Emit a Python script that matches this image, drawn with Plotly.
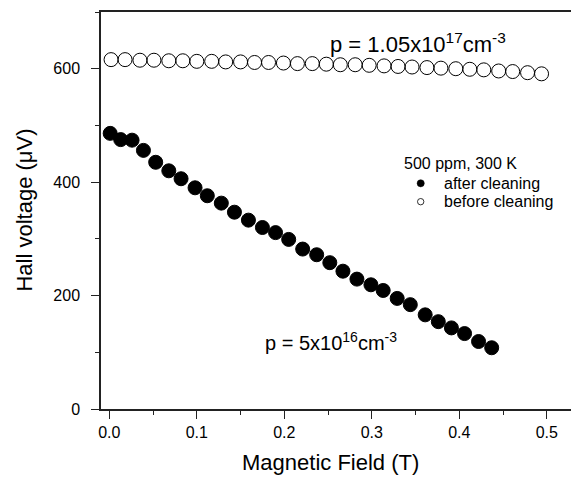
import plotly.graph_objects as go

# Data
field_after = [0.001, 0.013, 0.026, 0.039, 0.053, 0.068, 0.082, 0.098, 0.112, 0.128,
               0.143, 0.159, 0.175, 0.190, 0.205, 0.221, 0.237, 0.252, 0.267, 0.283,
               0.299, 0.313, 0.329, 0.344, 0.361, 0.376, 0.391, 0.406, 0.422, 0.437]
hall_after = [486, 475, 474, 456, 435, 420, 406, 390, 376, 363,
              347, 333, 320, 311, 299, 282, 272, 258, 243, 229,
              219, 209, 195, 184, 166, 154, 143, 133, 119, 108]

field_before = [0.002, 0.018, 0.035, 0.051, 0.068, 0.084, 0.100, 0.117, 0.133, 0.150,
                0.166, 0.182, 0.199, 0.215, 0.232, 0.248, 0.264, 0.281, 0.297, 0.314,
                0.330, 0.346, 0.363, 0.379, 0.396, 0.412, 0.428, 0.445, 0.461, 0.478, 0.494]
hall_before = [616, 616, 615, 615, 614, 614, 613, 613, 612, 612,
               611, 611, 610, 609, 609, 608, 607, 607, 606, 605,
               604, 603, 602, 601, 600, 599, 598, 596, 595, 593, 591]

x_ticks = [0.0, 0.1, 0.2, 0.3, 0.4, 0.5]
x_ticklabels = ["0.0", "0.1", "0.2", "0.3", "0.4", "0.5"]
y_ticks = [0, 200, 400, 600]

legend_title = "500 ppm, 300 K"
legend_labels = ["after cleaning", "before cleaning"]

FONT = "Arial, Liberation Sans, sans-serif"

fig = go.Figure()
fig.add_trace(go.Scatter(
    x=field_after, y=hall_after, mode="markers", showlegend=False,
    marker=dict(symbol="circle", size=14, color="black", line=dict(color="black", width=1)),
))
fig.add_trace(go.Scatter(
    x=field_before, y=hall_before, mode="markers", showlegend=False,
    marker=dict(symbol="circle-open", size=14, color="black", line=dict(color="black", width=1)),
))

# manual legend (paper coordinates relative to plot area)
leg_x_text = 0.714
leg_x_sym = 0.6688
leg_rows = [0.5685, 0.5222]
shapes = [
    dict(type="circle", xref="paper", yref="paper", xsizemode="pixel", ysizemode="pixel",
         xanchor=leg_x_sym, yanchor=leg_rows[0], x0=-3.6, x1=3.6, y0=-3.6, y1=3.6,
         fillcolor="black", line=dict(color="black", width=0.5)),
    dict(type="circle", xref="paper", yref="paper", xsizemode="pixel", ysizemode="pixel",
         xanchor=leg_x_sym, yanchor=leg_rows[1], x0=-3.2, x1=3.2, y0=-3.2, y1=3.2,
         fillcolor="rgba(0,0,0,0)", line=dict(color="black", width=0.8)),
]

annotations = [
    dict(text="Magnetic Field (T)", xref="paper", yref="paper", x=0.48, y=-0.136,
         xanchor="center", yanchor="middle", showarrow=False, font=dict(size=22)),
    dict(text="Hall voltage (\u03bcV)", xref="paper", yref="paper", x=-0.161, y=0.5,
         xanchor="center", yanchor="middle", showarrow=False, textangle=-90, font=dict(size=22)),
    dict(text="p = 1.05x10<sup>17</sup>cm<sup>-3</sup>", xref="x", yref="y", x=0.25, y=646,
         xanchor="left", yanchor="middle", showarrow=False, font=dict(size=22)),
    dict(text="p = 5x10<sup>16</sup>cm<sup>-3</sup>", xref="x", yref="y", x=0.176, y=119,
         xanchor="left", yanchor="middle", showarrow=False, font=dict(size=20)),
    dict(text=legend_title, xref="paper", yref="paper", x=0.629, y=0.6189,
         xanchor="left", yanchor="middle", showarrow=False, font=dict(size=16)),
]
for lab, yy in zip(legend_labels, leg_rows):
    annotations.append(dict(text=lab, xref="paper", yref="paper", x=leg_x_text, y=yy,
                            xanchor="left", yanchor="middle", showarrow=False, font=dict(size=16)))

# The page body adds an 8px offset; figure is sized/margined to compensate.
fig.update_layout(
    width=571, height=469,
    margin=dict(l=93, r=0, t=4, b=68),
    paper_bgcolor="white", plot_bgcolor="white",
    font=dict(family=FONT, color="black", size=16),
    showlegend=False,
    xaxis=dict(
        range=[-0.0095, 0.5368], tickvals=x_ticks, ticktext=x_ticklabels,
        showgrid=False, zeroline=False, showline=True, linecolor="#222", linewidth=1.5,
        mirror=True, ticks="outside", ticklen=8, tickwidth=1.2, tickcolor="#222",
        minor=dict(ticks="outside", ticklen=4, dtick=0.05, tick0=0, tickcolor="#222", tickwidth=1.2),
        tickfont=dict(size=16),
    ),
    yaxis=dict(
        range=[0, 700], tickvals=y_ticks,
        showgrid=False, zeroline=False, showline=True, linecolor="#222", linewidth=1.5,
        ticks="outside", ticklen=8, tickwidth=1.2, tickcolor="#222",
        minor=dict(ticks="outside", ticklen=4, dtick=100, tick0=0, tickcolor="#222", tickwidth=1.2),
        tickfont=dict(size=16), ticklabelstandoff=8,
    ),
    shapes=shapes,
    annotations=annotations,
)

fig.write_html("out.html")
